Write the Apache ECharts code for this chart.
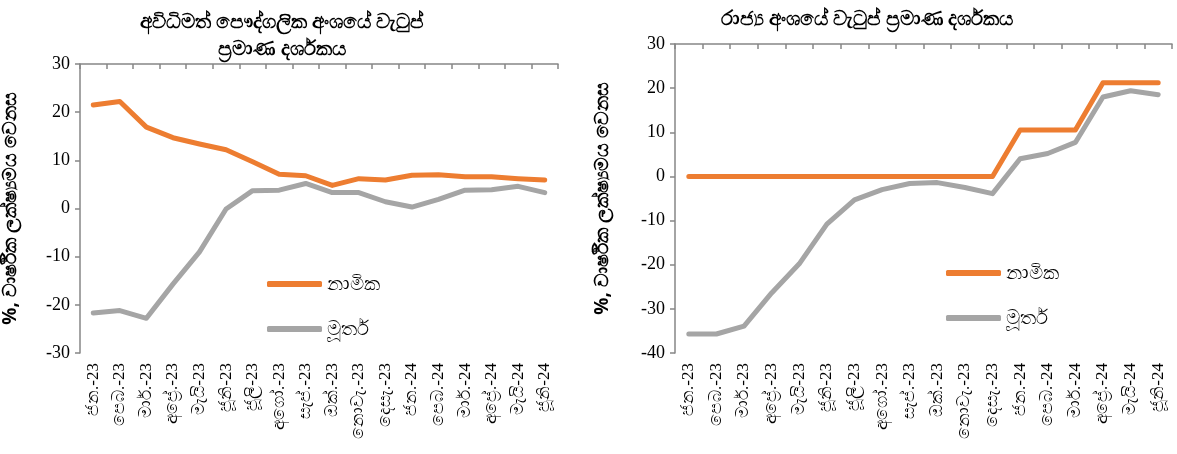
<!DOCTYPE html>
<html>
<head>
<meta charset="utf-8">
<script src="https://cdn.jsdelivr.net/npm/echarts@6/dist/echarts.min.js"></script>
<style>
html,body{margin:0;padding:0;background:#fff;}
#c{width:1177px;height:454px;}
</style>
</head>
<body>
<div id="c"></div>
<script>
const months = ['ජන.-23','පෙබ.-23','මාර්.-23','අප්‍රේ.-23','මැයි-23','ජූනි-23','ජූලි-23','අගෝ.-23','සැප්.-23','ඔක්.-23','නොවැ.-23','දෙසැ.-23','ජන.-24','පෙබ.-24','මාර්.-24','අප්‍රේ.-24','මැයි-24','ජූනි-24'];
const leftTitle = 'අවිධිමත් පෞද්ගලික අංශයේ වැටුප්\nප්‍රමාණ දර්ශකය';
const rightTitle = 'රාජ්‍ය අංශයේ වැටුප් ප්‍රමාණ දර්ශකය';
const yName = '%, වාර්ෂික ලක්ෂ්‍යමය වෙනස';
const nominalName = 'නාමික';
const realName = 'මූර්ත';
const informalNominal = [21.5, 22.2, 16.9, 14.7, 13.4, 12.2, 9.7, 7.1, 6.8, 4.8, 6.2, 5.9, 6.9, 7.0, 6.6, 6.6, 6.2, 5.9];
const informalReal = [-21.7, -21.2, -22.8, -15.7, -9.0, -0.1, 3.7, 3.8, 5.2, 3.3, 3.3, 1.4, 0.3, 1.9, 3.8, 3.9, 4.6, 3.3];
const publicNominal = [0, 0, 0, 0, 0, 0, 0, 0, 0, 0, 0, 0, 10.5, 10.5, 10.5, 21.2, 21.2, 21.2];
const publicReal = [-35.7, -35.7, -33.9, -26.4, -19.8, -10.8, -5.3, -3.0, -1.6, -1.4, -2.5, -3.9, 4.0, 5.2, 7.7, 18.0, 19.4, 18.5];

const ORANGE = '#ED7D31', GRAY = '#A5A5A5', AXIS = '#868686';
const serif = '"Liberation Serif", "Times New Roman", serif';

function xAxes(gridIndex) {
  return [
    { type: 'category', gridIndex, data: months, position: 'bottom', boundaryGap: true,
      axisLine: { show: false }, axisTick: { show: false },
      axisLabel: { rotate: 90, interval: 0, fontSize: 17, color: '#000', fontFamily: serif, margin: 10 } },
    { type: 'category', gridIndex, data: months, position: 'top', boundaryGap: true,
      axisLine: { show: true, onZero: true, lineStyle: { color: AXIS, width: 1.5 } },
      axisTick: { show: true, inside: true, length: 5, interval: 0, lineStyle: { color: AXIS, width: 1.5 } },
      axisLabel: { show: false } }
  ];
}
function yAxis(gridIndex, min, max, gap) {
  return { type: 'value', gridIndex, min, max, interval: 10,
    name: yName, nameLocation: 'middle', nameGap: gap, nameRotate: 90,
    nameTextStyle: { fontSize: 19, fontWeight: 'bold', color: '#000' },
    splitLine: { show: false },
    axisLine: { show: true, onZero: false, lineStyle: { color: AXIS, width: 1.5 } },
    axisTick: { show: true, length: 5, lineStyle: { color: AXIS, width: 1.5 } },
    axisLabel: { fontSize: 18, color: '#000', fontFamily: serif, margin: 10 } };
}
function line(name, data, xi, yi, color) {
  return { name, type: 'line', data, xAxisIndex: xi, yAxisIndex: yi, symbol: 'none',
    lineStyle: { color, width: 5, cap: 'round', join: 'round' }, itemStyle: { color } };
}
function legend(left, top) {
  return { data: [nominalName, realName], left, top, orient: 'vertical', itemWidth: 55, itemHeight: 6,
    padding: 0, itemGap: 25, icon: 'roundRect', textStyle: { fontSize: 20, color: '#000' }, selectedMode: false };
}

const chart = echarts.init(document.getElementById('c'));
chart.setOption({
  animation: false,
  textStyle: { fontFamily: '"Noto Sans", sans-serif' },
  title: [
    { text: leftTitle, left: 277, top: 4, textAlign: 'center',
      textStyle: { fontSize: 20, fontWeight: 'bold', color: '#000', lineHeight: 27 } },
    { text: rightTitle, left: 862, top: 4, textAlign: 'center',
      textStyle: { fontSize: 20, fontWeight: 'bold', color: '#000' } }
  ],
  grid: [
    { left: 77, top: 64, width: 481, height: 289 },
    { left: 675, top: 44, width: 497, height: 309 }
  ],
  xAxis: [...xAxes(0), ...xAxes(1)],
  yAxis: [yAxis(0, -30, 30, 60), yAxis(1, -40, 30, 63)],
  legend: [legend(267, 274), legend(946, 263)],
  series: [
    line(nominalName, informalNominal, 0, 0, ORANGE),
    line(realName, informalReal, 0, 0, GRAY),
    line(nominalName, publicNominal, 2, 1, ORANGE),
    line(realName, publicReal, 2, 1, GRAY)
  ]
});
</script>
</body>
</html>
